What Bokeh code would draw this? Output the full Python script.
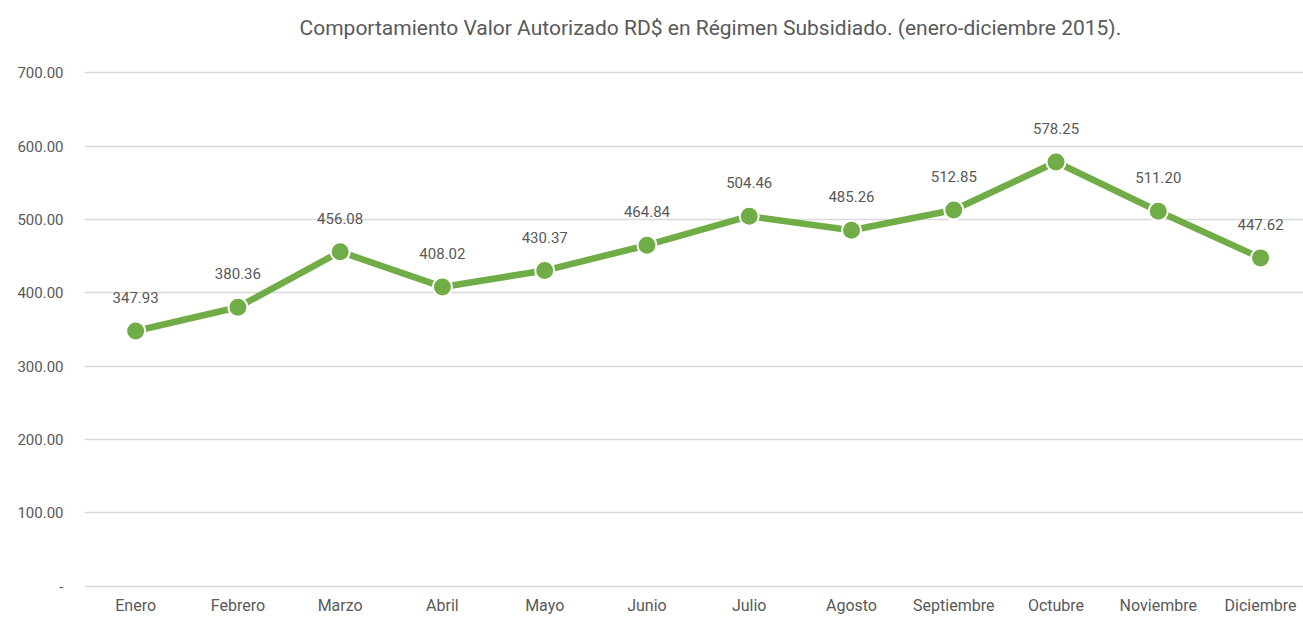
from bokeh.plotting import figure
from bokeh.layouts import column
from bokeh.models import ColumnDataSource, Range1d, FixedTicker
from bokeh.core.properties import value
from bokeh.embed import file_html
from bokeh.resources import INLINE

months = ["Enero", "Febrero", "Marzo", "Abril", "Mayo", "Junio", "Julio",
          "Agosto", "Septiembre", "Octubre", "Noviembre", "Diciembre"]
values = [347.93, 380.36, 456.08, 408.02, 430.37, 464.84, 504.46,
          485.26, 512.85, 578.25, 511.20, 447.62]
y_ticks = [0, 100, 200, 300, 400, 500, 600, 700]
y_tick_labels = ["-", "100.00", "200.00", "300.00", "400.00", "500.00", "600.00", "700.00"]
title_text = "Comportamiento Valor Autorizado RD$ en Régimen Subsidiado. (enero-diciembre 2015)."

FONT = "Roboto"
GREY = "#595959"

src = ColumnDataSource(dict(
    x=list(range(len(months))),
    y=values,
    label=[f"{v:.2f}" for v in values],
))

# --- title strip ---
TH = 40
pt = figure(width=1303, height=TH, output_backend="svg", toolbar_location=None,
            x_range=Range1d(0, 1303), y_range=Range1d(0, TH),
            x_axis_location=None, y_axis_location=None)
pt.min_border_left = 0
pt.min_border_right = 0
pt.min_border_top = 0
pt.min_border_bottom = 0
pt.grid.visible = False
pt.outline_line_color = None
pt.text(x=[669], y=[TH - 27], text=[title_text], text_font=value(FONT),
        text_font_size="21px", text_color=GREY, text_align="center",
        text_baseline="middle")

# --- main chart ---
p = figure(width=1303, height=617 - TH, output_backend="svg", toolbar_location=None,
           x_range=Range1d(-0.5, 11.42), y_range=Range1d(-3, 703))
p.min_border_left = 84
p.min_border_right = 0
p.min_border_top = 70 - TH
p.min_border_bottom = 10
p.outline_line_color = None

p.xgrid.grid_line_color = None
p.ygrid.grid_line_color = "#D9D9D9"
p.ygrid.grid_line_width = 1.5
p.ygrid.ticker = FixedTicker(ticks=y_ticks)

p.yaxis.ticker = FixedTicker(ticks=y_ticks)
p.yaxis.major_label_overrides = {t_: l for t_, l in zip(y_ticks, y_tick_labels)}
p.xaxis.ticker = FixedTicker(ticks=list(range(len(months))))
p.xaxis.major_label_overrides = {i: m for i, m in enumerate(months)}

for ax in (p.xaxis, p.yaxis):
    ax.axis_line_color = None
    ax.major_tick_line_color = None
    ax.minor_tick_line_color = None
    ax.major_label_text_font = FONT
    ax.major_label_text_color = GREY
p.yaxis.major_label_text_font_size = "15px"
p.xaxis.major_label_text_font_size = "16px"
p.yaxis.major_label_standoff = 15
p.xaxis.major_label_standoff = 1

p.line("x", "y", source=src, line_color="#70AD47", line_width=6.5)
p.scatter("x", "y", source=src, size=19, fill_color="#70AD47",
          line_color="white", line_width=2)
p.text("x", "y", text="label", source=src, text_font=value(FONT),
       text_font_size="15px", text_color=GREY, text_align="center",
       text_baseline="bottom", y_offset=-28)

layout = column(pt, p, spacing=0)
open("out.html", "w").write(file_html(layout, INLINE))
